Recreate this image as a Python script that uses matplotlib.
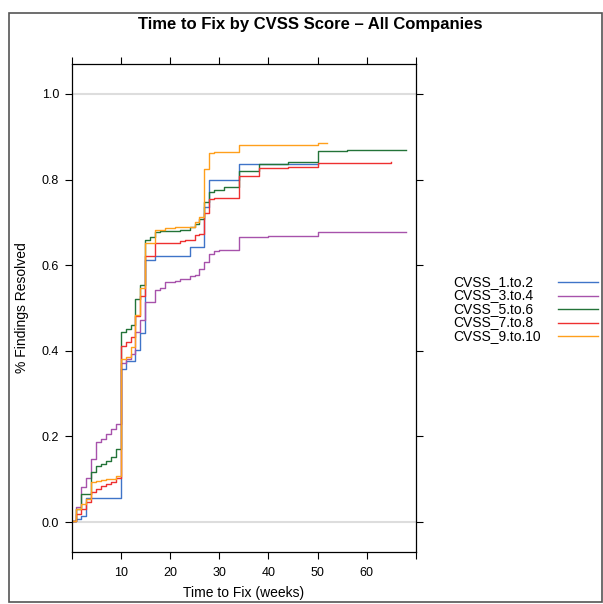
import matplotlib
matplotlib.use("Agg")
import matplotlib.pyplot as plt
from matplotlib.lines import Line2D
from matplotlib.patches import Rectangle

plt.rcParams['font.family'] = ['Liberation Sans', 'DejaVu Sans']

# step points: week where the level changes, and level from that week on
series_names = ["CVSS_1.to.2", "CVSS_3.to.4", "CVSS_5.to.6", "CVSS_7.to.8", "CVSS_9.to.10"]
colors = ["#3f74c8", "#a752ab", "#237338", "#ee3030", "#ff9f1c"]

weeks_1to2 = [0, 1, 2, 3, 10, 11, 13, 14, 15, 17, 24, 27, 28, 34, 50]
vals_1to2 = [0.003, 0.007, 0.015, 0.057, 0.358, 0.376, 0.403, 0.442, 0.613, 0.622,
             0.642, 0.737, 0.798, 0.837, 0.837]

weeks_3to4 = [0, 1, 2, 3, 4, 5, 6, 7, 8, 9, 10, 11, 12, 13, 14, 15, 17, 18, 19, 21,
              22, 24, 25, 26, 27, 28, 29, 30, 34, 40, 50, 68]
vals_3to4 = [0.003, 0.034, 0.082, 0.102, 0.147, 0.186, 0.193, 0.205, 0.217, 0.228,
             0.372, 0.382, 0.392, 0.445, 0.473, 0.513, 0.541, 0.547, 0.560, 0.562,
             0.568, 0.574, 0.578, 0.591, 0.607, 0.625, 0.632, 0.636, 0.666, 0.668,
             0.677, 0.678]

weeks_5to6 = [0, 1, 2, 4, 5, 6, 7, 8, 9, 10, 11, 12, 13, 14, 15, 16, 17, 18, 19,
              22, 24, 25, 26, 27, 28, 29, 31, 34, 38, 44, 50, 56, 68]
vals_5to6 = [0.003, 0.030, 0.065, 0.116, 0.131, 0.135, 0.143, 0.151, 0.170, 0.444,
             0.450, 0.460, 0.520, 0.553, 0.660, 0.665, 0.677, 0.680, 0.681, 0.683,
             0.689, 0.697, 0.708, 0.747, 0.770, 0.776, 0.782, 0.819, 0.836, 0.840,
             0.866, 0.869, 0.870]

weeks_7to8 = [0, 1, 2, 3, 4, 5, 6, 7, 8, 9, 10, 11, 12, 13, 14, 15, 17, 22, 23, 25,
              26, 27, 28, 29, 34, 38, 44, 50, 65]
vals_7to8 = [0.003, 0.019, 0.030, 0.047, 0.071, 0.077, 0.085, 0.088, 0.094, 0.102,
             0.411, 0.420, 0.433, 0.481, 0.529, 0.621, 0.653, 0.656, 0.660, 0.671,
             0.673, 0.722, 0.755, 0.757, 0.809, 0.827, 0.830, 0.838, 0.840]

weeks_9to10 = [0, 1, 2, 3, 4, 5, 6, 7, 8, 9, 10, 11, 12, 13, 14, 15, 17, 19, 21, 25,
               26, 27, 28, 29, 34, 35, 50, 52]
vals_9to10 = [0.003, 0.030, 0.042, 0.054, 0.093, 0.097, 0.098, 0.100, 0.101, 0.107,
              0.380, 0.385, 0.409, 0.483, 0.547, 0.653, 0.683, 0.687, 0.689, 0.702,
              0.712, 0.824, 0.862, 0.864, 0.880, 0.881, 0.885, 0.885]

all_weeks = [weeks_1to2, weeks_3to4, weeks_5to6, weeks_7to8, weeks_9to10]
all_vals = [vals_1to2, vals_3to4, vals_5to6, vals_7to8, vals_9to10]

fig = plt.figure(figsize=(6.03, 6.04), dpi=100)
ax = fig.add_axes([71.5 / 603, 52 / 604, (416 - 71.5) / 603, 488 / 604])

ax.axhline(0, color="#dddddd", lw=1.5, zorder=0)
ax.axhline(1, color="#dddddd", lw=1.5, zorder=0)

for w, v, c in zip(all_weeks, all_vals, colors):
    ax.step(w, v, where="post", color=c, lw=1.0)

ax.set_xlim(0, 70)
ax.set_ylim(-0.07, 1.07)
ax.set_xticks(range(0, 71, 10))
ax.set_xticklabels(["", "10", "20", "30", "40", "50", "60", ""])
ax.set_yticks([0, 0.2, 0.4, 0.6, 0.8, 1.0])
ax.set_yticklabels(["0.0", "0.2", "0.4", "0.6", "0.8", "1.0"])
ax.tick_params(direction="out", length=5, width=0.8, labelsize=9, top=True, right=True)
ax.tick_params(axis="x", pad=6)
ax.tick_params(axis="y", pad=4)
for s in ax.spines.values():
    s.set_linewidth(0.9)

ax.set_xlabel("Time to Fix (weeks)", fontsize=10, labelpad=5)
ax.set_ylabel("% Findings Resolved", fontsize=10, labelpad=9)

fig.text(310 / 603, 1 - 24 / 604, "Time to Fix by CVSS Score \u2013 All Companies",
         ha="center", va="center", fontsize=12, fontweight="bold")

# legend on the right: text left, line right
row_y = [282, 295.5, 309, 322.5, 336]
for name, c, ry in zip(series_names, colors, row_y):
    fy = 1 - ry / 604
    fig.text(453 / 603, fy, name, ha="left", va="center", fontsize=10)
    fig.add_artist(Line2D([558 / 603, 598 / 603], [fy, fy], color=c, lw=1.0))

fig.add_artist(Rectangle((9 / 603, 2 / 604), 593 / 603, 589 / 604, fill=False,
                         edgecolor="#555555", lw=1.2))

fig.savefig("out.png", dpi=100)
